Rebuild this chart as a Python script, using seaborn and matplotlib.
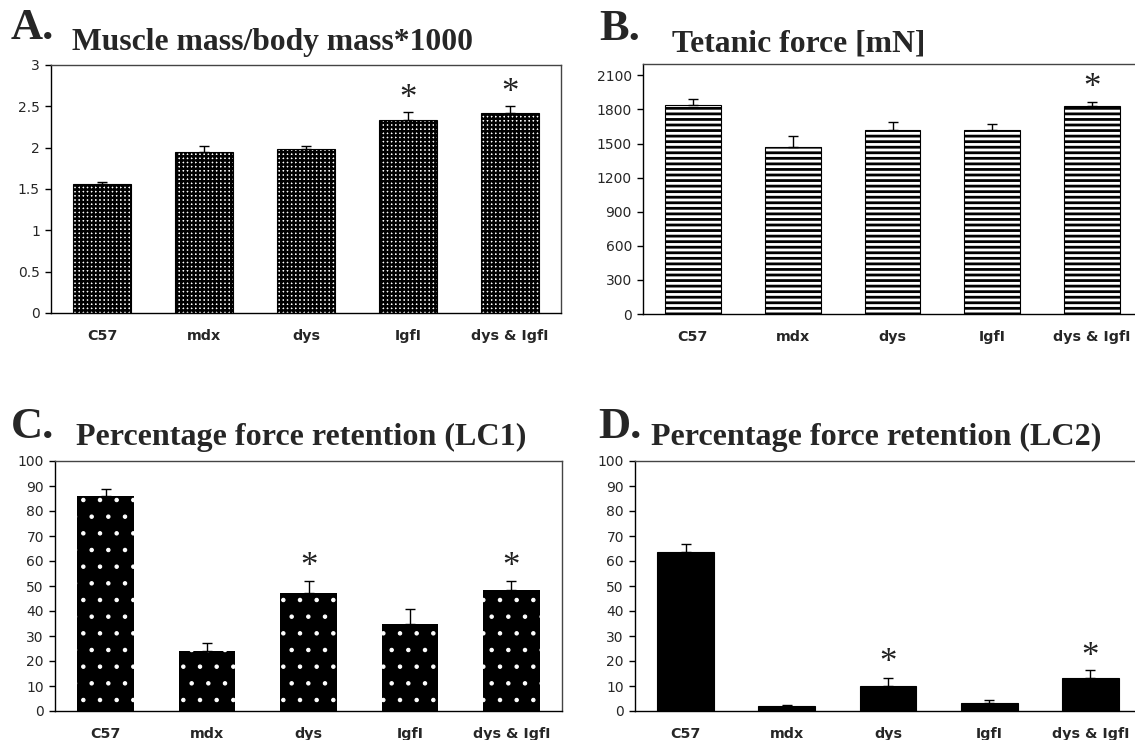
import numpy as np
import pandas as pd
import matplotlib
matplotlib.use("Agg")
import matplotlib.pyplot as plt
import seaborn as sns

# ---------------- data ----------------
categories = ["C57", "mdx", "dys", "IgfI", "dys & IgfI"]

mass_ratio = [1.56, 1.95, 1.98, 2.34, 2.42]
mass_ratio_err = [0.03, 0.07, 0.04, 0.09, 0.08]
mass_ratio_stars = [None, None, None, 2.66, 2.73]

tetanic = [1841, 1471, 1621, 1615, 1832]
tetanic_err = [50, 94, 67, 59, 36]
tetanic_stars = [None, None, None, None, 2042]

lc1 = [86.1, 24.2, 47.1, 34.7, 48.6]
lc1_err = [2.8, 3.0, 5.0, 6.2, 3.5]
lc1_stars = [None, None, 60, None, 60]

lc2 = [63.8, 2.0, 10.0, 3.3, 13.4]
lc2_err = [3.1, 0.3, 3.4, 1.0, 3.2]
lc2_stars = [None, None, 21.6, None, 24.0]

panel_letters = ["A.", "B.", "C.", "D."]
panel_titles = ["Muscle mass/body mass*1000", "Tetanic force [mN]",
                "Percentage force retention (LC1)", "Percentage force retention (LC2)"]

# ---------------- style ----------------
sns.set_style("white")
plt.rcParams["font.family"] = ["DejaVu Sans"]
plt.rcParams["hatch.linewidth"] = 1.7

W, H = 1135, 740
fig = plt.figure(figsize=(W / 100, H / 100), dpi=100)
fig.patch.set_facecolor("white")


def px_axes(left, right, top, bottom):
    return fig.add_axes([left / W, 1 - bottom / H, (right - left) / W, (bottom - top) / H])


panels = [
    dict(box=(51, 561, 65, 313), vals=mass_ratio, err=mass_ratio_err, stars=mass_ratio_stars,
         ylim=(0, 3), yticks=np.arange(0, 3.01, 0.5), ytl=["0", "0.5", "1", "1.5", "2", "2.5", "3"],
         face="white", edge="black", hatch="++++", hlw=1.8, lw=0.8,
         letter=(11, 39), title=(72, 50), tsize=22.8),
    dict(box=(643, 1142, 64, 314), vals=tetanic, err=tetanic_err, stars=tetanic_stars,
         ylim=(0, 2200), yticks=np.arange(0, 2101, 300), ytl=None,
         face="white", edge="black", hatch="---", hlw=2.0, lw=0.8,
         letter=(599, 40), title=(672, 52), tsize=22.8),
    dict(box=(55, 562, 461, 711), vals=lc1, err=lc1_err, stars=lc1_stars,
         ylim=(0, 100), yticks=np.arange(0, 101, 10), ytl=None,
         face="black", edge="white", hatch=".", hlw=0.8, lw=0,
         letter=(11, 438), title=(76, 445), tsize=23.1),
    dict(box=(635, 1141, 461, 711), vals=lc2, err=lc2_err, stars=lc2_stars,
         ylim=(0, 100), yticks=np.arange(0, 101, 10), ytl=None,
         face="black", edge="black", hatch=None, hlw=1.0, lw=0.8,
         letter=(598, 438), title=(651, 445), tsize=23.1),
]

for i, p in enumerate(panels):
    ax = px_axes(*p["box"])
    df = pd.DataFrame({"group": categories, "value": p["vals"]})
    sns.barplot(data=df, x="group", y="value", order=categories, ax=ax,
                width=0.56, color="black", errorbar=None, saturation=1)
    for bar in ax.patches:
        bar.set_facecolor(p["face"])
        bar.set_edgecolor(p["edge"])
        bar.set_linewidth(p["lw"])
        if p["hatch"]:
            bar.set_hatch(p["hatch"])
            if hasattr(bar, "set_hatch_linewidth"):
                bar.set_hatch_linewidth(p["hlw"])
        bar.set_zorder(2)
    xs = np.arange(len(categories))
    ax.errorbar(xs, p["vals"], yerr=[np.zeros(len(xs)), p["err"]], fmt="none",
                ecolor="black", elinewidth=1.0, capsize=3.5, capthick=1.0, zorder=3)
    for x, s in zip(xs, p["stars"]):
        if s is not None:
            ax.annotate("*", (x, s), xytext=(0, -4.5), textcoords="offset points",
                        ha="center", va="center", fontsize=25,
                        family="Liberation Serif", color="#222222", zorder=4)
    ax.set_xlim(-0.5, len(categories) - 0.5)
    ax.set_ylim(*p["ylim"])
    ax.set_yticks(p["yticks"])
    if p["ytl"]:
        ax.set_yticklabels(p["ytl"])
    ax.set_xlabel("")
    ax.set_ylabel("")
    ax.set_xticks(xs)
    ax.set_xticklabels(categories, fontweight="bold", fontsize=10.3)
    ax.set_xticks(np.arange(-0.5, len(categories)), minor=True)
    ax.tick_params(axis="x", which="major", length=0, pad=11.5)
    ax.tick_params(axis="x", which="minor", length=4, width=1, color="black", direction="out")
    ax.tick_params(axis="y", which="major", length=4, width=1, color="black",
                   direction="out", labelsize=10, pad=4, left=True)
    for side in ["left", "bottom"]:
        ax.spines[side].set_color("black")
        ax.spines[side].set_linewidth(1.0)
    for side in ["top", "right"]:
        ax.spines[side].set_color("#444444")
        ax.spines[side].set_linewidth(1.0)
    ax.grid(False)
    ax.set_facecolor("white")

    lx, ly = p["letter"]
    fig.text(lx / W, 1 - ly / H, panel_letters[i], family="Liberation Serif",
             fontweight="bold", fontsize=32, ha="left", va="baseline")
    tx, ty = p["title"]
    fig.text(tx / W, 1 - ty / H, panel_titles[i], family="Liberation Serif",
             fontweight="bold", fontsize=p["tsize"], ha="left", va="baseline")

fig.savefig("out.png", dpi=100, facecolor="white")
